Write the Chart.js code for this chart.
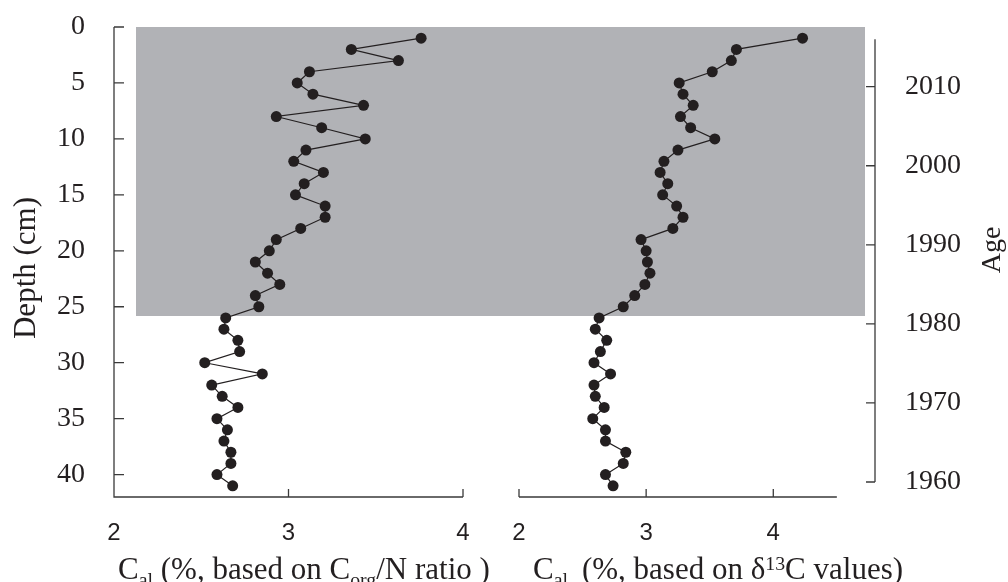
<!DOCTYPE html>
<html>
<head>
<meta charset="utf-8">
<script src="https://cdn.jsdelivr.net/npm/chart.js@4.4.1/dist/chart.umd.min.js"></script>
<style>
  html, body { margin: 0; padding: 0; background: #fff; }
  #wrap { position: relative; width: 1008px; height: 582px; }
  #wrap canvas { position: absolute; left: 0; top: 0; }
</style>
</head>
<body>
<div id="wrap">
  <canvas id="cn-chart" width="1008" height="582"></canvas>
  <canvas id="d13c-chart" width="1008" height="582"></canvas>
</div>
<script>
// Core slices (cm below surface)
const depthCm = [1, 2, 3, 4, 5, 6, 7, 8, 9, 10, 11, 12, 13, 14, 15, 16, 17, 18, 19, 20,
                 21, 22, 23, 24, 25, 26, 27, 28, 29, 30, 31, 32, 33, 34, 35, 36, 37, 38, 39, 40, 41];

// C_al (%) estimated from the C_org/N ratio
const calFromCN = [3.76, 3.36, 3.63, 3.12, 3.05, 3.14, 3.43, 2.93, 3.19, 3.44,
                   3.10, 3.03, 3.20, 3.09, 3.04, 3.21, 3.21, 3.07, 2.93, 2.89,
                   2.81, 2.88, 2.95, 2.81, 2.83, 2.64, 2.63, 2.71, 2.72, 2.52,
                   2.85, 2.56, 2.62, 2.71, 2.59, 2.65, 2.63, 2.67, 2.67, 2.59, 2.68];

// C_al (%) estimated from d13C values
const calFromD13C = [4.23, 3.71, 3.67, 3.52, 3.26, 3.29, 3.37, 3.27, 3.35, 3.54,
                     3.25, 3.14, 3.11, 3.17, 3.13, 3.24, 3.29, 3.21, 2.96, 3.00,
                     3.01, 3.03, 2.99, 2.91, 2.82, 2.63, 2.60, 2.69, 2.64, 2.59,
                     2.72, 2.59, 2.60, 2.67, 2.58, 2.68, 2.68, 2.84, 2.82, 2.68, 2.74];

const depthTicks = [0, 5, 10, 15, 20, 25, 30, 35, 40];
const calTicks = [2, 3, 4];
const ageTicks = [1960, 1970, 1980, 1990, 2000, 2010];
const ageSpan = [1960, 2016];
const shadedDepth = [0, 25.8];

// estilos
const INK = '#231f20';
const AXIS = '#3a3a3a';
const SHADE = '#b1b2b6';
const SERIF = '"Liberation Serif", "DejaVu Serif", serif';
const SANS = '"Liberation Sans", Arial, sans-serif';

const leftTitle = [{t: 'C'}, {t: 'al', sub: true}, {t: ' (%, based on C'}, {t: 'org', sub: true}, {t: '/N ratio )'}];
const rightTitle = [{t: 'C'}, {t: 'al', sub: true}, {t: ' \u2009(%, based on \u03b4'}, {t: '13', sup: true}, {t: 'C values)'}];

// texto con subíndices / superíndices
function drawRich(ctx, parts, x, y, size) {
  let cx = x;
  ctx.textAlign = 'left';
  ctx.textBaseline = 'alphabetic';
  parts.forEach(p => {
    const s = (p.sub || p.sup) ? size * 0.64 : size;
    ctx.font = `${s}px ${SERIF}`;
    const dy = p.sub ? size * 0.24 : (p.sup ? -size * 0.3 : 0);
    ctx.fillText(p.t, cx, y + dy);
    cx += ctx.measureText(p.t).width;
  });
}

// banda gris, en píxeles enteros para que las dos mitades empalmen sin costura
function shade(ctx, x, y, from, to) {
  const x0 = Math.round(x.getPixelForValue(from)), x1 = Math.round(x.getPixelForValue(to));
  const y0 = Math.round(y.getPixelForValue(shadedDepth[0])), y1 = Math.round(y.getPixelForValue(shadedDepth[1]));
  ctx.fillStyle = SHADE;
  ctx.fillRect(x0, y0, x1 - x0, y1 - y0);
}

// 1. Panel izquierdo: banda gris, ejes con marcas hacia dentro, títulos
const cnDecor = {
  id: 'cnDecor',
  beforeDatasetsDraw(chart) {
    const {ctx, chartArea: a, scales: {x, y}} = chart;
    ctx.save();
    shade(ctx, x, y, 2.125, 4.2);
    ctx.strokeStyle = AXIS;
    ctx.lineWidth = 1.3;
    ctx.beginPath();
    ctx.moveTo(a.left, a.top);
    ctx.lineTo(a.left, a.bottom);
    ctx.lineTo(x.getPixelForValue(4), a.bottom);
    depthTicks.forEach(d => {
      const py = y.getPixelForValue(d);
      ctx.moveTo(a.left, py);
      ctx.lineTo(a.left + 10, py);
    });
    calTicks.slice(1).forEach(v => {
      const px = x.getPixelForValue(v);
      ctx.moveTo(px, a.bottom);
      ctx.lineTo(px, a.bottom - 8);
    });
    ctx.stroke();
    ctx.restore();
  },
  afterDraw(chart) {
    const {ctx, chartArea: a, scales: {x}} = chart;
    ctx.save();
    ctx.fillStyle = INK;
    drawRich(ctx, leftTitle, x.getPixelForValue(2) + 4, 579, 31);
    ctx.translate(27, (a.top + a.bottom) / 2 + 6);
    ctx.rotate(-Math.PI / 2);
    ctx.font = `31px ${SERIF}`;
    ctx.textAlign = 'center';
    ctx.textBaseline = 'middle';
    ctx.fillText('Depth (cm)', 0, 0);
    ctx.restore();
  }
};

// 2. Panel derecho: banda gris, eje x, eje de edad
const d13cDecor = {
  id: 'd13cDecor',
  beforeDatasetsDraw(chart) {
    const {ctx, chartArea: a, scales: {x, y, age}} = chart;
    ctx.save();
    shade(ctx, x, y, 1.7, 4.72);
    ctx.strokeStyle = AXIS;
    ctx.lineWidth = 1.3;
    ctx.beginPath();
    ctx.moveTo(x.getPixelForValue(2), a.bottom);
    ctx.lineTo(x.getPixelForValue(4.5), a.bottom);
    calTicks.forEach(v => {
      const px = x.getPixelForValue(v);
      ctx.moveTo(px, a.bottom);
      ctx.lineTo(px, a.bottom - 8);
    });
    ctx.moveTo(a.right, age.getPixelForValue(ageSpan[1]));
    ctx.lineTo(a.right, age.getPixelForValue(ageSpan[0]));
    ageTicks.forEach(v => {
      const py = age.getPixelForValue(v);
      ctx.moveTo(a.right, py);
      ctx.lineTo(a.right - 9, py);
    });
    ctx.stroke();
    ctx.restore();
  },
  afterDraw(chart) {
    const {ctx, scales: {x}} = chart;
    ctx.save();
    ctx.fillStyle = INK;
    drawRich(ctx, rightTitle, x.getPixelForValue(2) + 14, 579, 31);
    ctx.translate(993, 250);
    ctx.rotate(-Math.PI / 2);
    ctx.font = `28px ${SERIF}`;
    ctx.textAlign = 'center';
    ctx.textBaseline = 'middle';
    ctx.fillText('Age', 0, 0);
    ctx.restore();
  }
};

function profile(values) {
  return {
    data: depthCm.map((d, i) => ({x: values[i], y: d})),
    showLine: true,
    borderColor: INK,
    borderWidth: 1.2,
    pointRadius: 5.5,
    pointBackgroundColor: INK,
    pointBorderWidth: 0,
    clip: false
  };
}

// sin márgenes automáticos: el área del gráfico la fija layout.padding
function noPad(s) {
  s.paddingTop = 0;
  s.paddingBottom = 0;
  s.paddingLeft = 0;
  s.paddingRight = 0;
}

const plain = {display: false, drawTicks: false};
const calAxis = (min, max) => ({
  type: 'linear', min, max,
  grid: plain, border: {display: false},
  afterBuildTicks: s => { s.ticks = calTicks.map(v => ({value: v})); },
  afterFit: s => { s.height = 85; noPad(s); },
  ticks: {font: {family: SANS, size: 24}, color: INK, padding: 22, maxRotation: 0, autoSkip: false}
});
const depthAxis = show => ({
  type: 'linear', reverse: true, min: 0, max: 42, display: show,
  grid: plain, border: {display: false},
  afterBuildTicks: s => { s.ticks = depthTicks.map(v => ({value: v})); },
  afterFit: s => { s.width = show ? 114 : 0; noPad(s); },
  ticks: {font: {family: SERIF, size: 28}, color: INK, padding: 29, autoSkip: false}
});

new Chart(document.getElementById('cn-chart'), {
  type: 'scatter',
  data: {datasets: [profile(calFromCN)]},
  options: {
    responsive: false,
    animation: false,
    layout: {padding: {top: 27, right: 545, left: 0, bottom: 0}},
    plugins: {legend: {display: false}, tooltip: {enabled: false}},
    scales: {x: calAxis(2, 4), y: depthAxis(true)}
  },
  plugins: [cnDecor]
});

new Chart(document.getElementById('d13c-chart'), {
  type: 'scatter',
  data: {datasets: [profile(calFromD13C)]},
  options: {
    responsive: false,
    animation: false,
    layout: {padding: {top: 27, left: 519, right: 0, bottom: 0}},
    plugins: {legend: {display: false}, tooltip: {enabled: false}},
    scales: {
      x: calAxis(2, 4.8),
      y: depthAxis(false),
      age: {
        type: 'linear', position: 'right', min: 1958.1, max: 2017.55,
        grid: plain, border: {display: false},
        afterBuildTicks: s => { s.ticks = ageTicks.map(v => ({value: v})); },
        afterFit: s => { s.width = 133; noPad(s); },
        ticks: {font: {family: SERIF, size: 28}, color: INK, padding: 30, autoSkip: false,
                callback: v => String(v)}
      }
    }
  },
  plugins: [d13cDecor]
});
</script>
</body>
</html>
